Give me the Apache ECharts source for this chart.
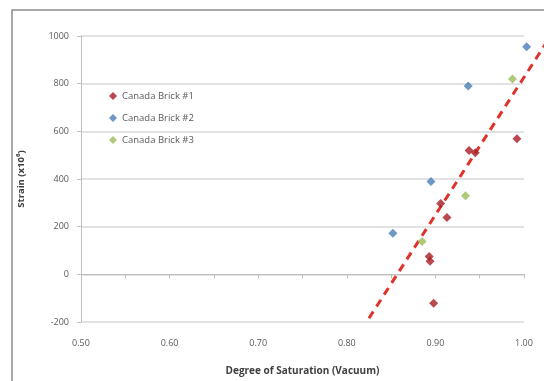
<!DOCTYPE html>
<html>
<head>
<meta charset="utf-8">
<script src="https://cdn.jsdelivr.net/npm/echarts@6/dist/echarts.min.js"></script>
<style>
  html, body { margin: 0; padding: 0; background: #fff; }
  #chart { width: 544px; height: 381px; }
</style>
</head>
<body>
<div id="chart"></div>
<script>
// values: [degree of saturation, strain]
const brick1 = [
  [0.992, 569], [0.938, 520], [0.945, 510], [0.906, 297], [0.913, 238],
  [0.893, 75], [0.894, 55], [0.898, -121]
];
const brick2 = [[1.003, 955], [0.937, 790], [0.895, 390], [0.852, 172]];
const brick3 = [[0.987, 820], [0.934, 330], [0.885, 138]];
const trend = [[0.825, -180], [1.03, 1000]];
const seriesNames = ['Canada Brick #1', 'Canada Brick #2', 'Canada Brick #3'];

const FONT = "'Open Sans', 'Liberation Sans', sans-serif";
const W = 544;
const GRID = { left: 81, right: 20, top: 36, bottom: 58 };
// the trendline runs past the plot edge up to the page edge, so it lives on a
// twin grid reaching the right edge with the same x scale
const pxPerUnit = (W - GRID.left - GRID.right) / 0.5;
const X_EXT = 0.5 + (W - GRID.left) / pxPerUnit;

const chart = echarts.init(document.getElementById('chart'));

function pointSeries(name, data, color) {
  return {
    name,
    type: 'scatter',
    data,
    symbol: 'diamond',
    symbolSize: 9,
    clip: false,
    itemStyle: { color },
  };
}

chart.setOption({
  animation: false,
  textStyle: { fontFamily: FONT, color: '#595959' },
  graphic: [{
    type: 'rect',
    shape: { x: 12, y: 10, width: 620, height: 420 },
    style: { fill: 'none', stroke: '#8c8c8c', lineWidth: 1.5 },
    silent: true,
  }],
  grid: [GRID, { left: GRID.left, right: 0, top: GRID.top, bottom: GRID.bottom }],
  legend: {
    orient: 'vertical',
    left: 104,
    top: 86,
    itemGap: 12,
    itemWidth: 8,
    itemHeight: 8,
    data: seriesNames.map(n => ({ name: n, icon: 'diamond' })),
    textStyle: { fontSize: 9.5, color: '#595959', fontFamily: FONT },
  },
  xAxis: [{
    type: 'value',
    min: 0.5,
    max: 1.0,
    interval: 0.05,
    name: 'Degree of Saturation (Vacuum)',
    nameLocation: 'middle',
    nameGap: 44,
    nameTextStyle: { fontSize: 10, fontWeight: 'bold', color: '#404040' },
    axisLine: { lineStyle: { color: '#bfbfbf' } },
    axisTick: { show: true, length: 4, lineStyle: { color: '#bfbfbf' } },
    axisLabel: {
      fontSize: 9,
      color: '#595959',
      margin: 17,
      formatter: v => (Math.round(v * 100) % 10 === 0 ? v.toFixed(2) : ''),
    },
    splitLine: { show: false },
  }, {
    type: 'value', gridIndex: 1, min: 0.5, max: X_EXT, show: false,
  }],
  yAxis: [{
    type: 'value',
    min: -200,
    max: 1000,
    interval: 200,
    name: 'Strain (x10\u2076)',
    nameLocation: 'middle',
    nameGap: 55,
    nameTextStyle: { fontSize: 9.5, fontWeight: 'bold', color: '#404040' },
    axisLine: { show: true, lineStyle: { color: '#bfbfbf' } },
    axisTick: { show: true, length: 4, lineStyle: { color: '#bfbfbf' } },
    axisLabel: { fontSize: 9, color: '#595959', margin: 12, formatter: v => String(v) },
    splitLine: { lineStyle: { color: '#d9d9d9', width: 1.5 } },
  }, {
    type: 'value', gridIndex: 1, min: -200, max: 1000, show: false,
  }],
  series: [
    pointSeries(seriesNames[0], brick1, '#a81c24'),
    pointSeries(seriesNames[1], brick2, '#4a7db8'),
    pointSeries(seriesNames[2], brick3, '#9bbb59'),
    {
      name: 'trend',
      type: 'line',
      xAxisIndex: 1,
      yAxisIndex: 1,
      data: trend,
      symbol: 'none',
      silent: true,
      z: 1,
      lineStyle: { color: '#e0312a', width: 3, type: [8, 6] },
    },
  ],
});
</script>
</body>
</html>
